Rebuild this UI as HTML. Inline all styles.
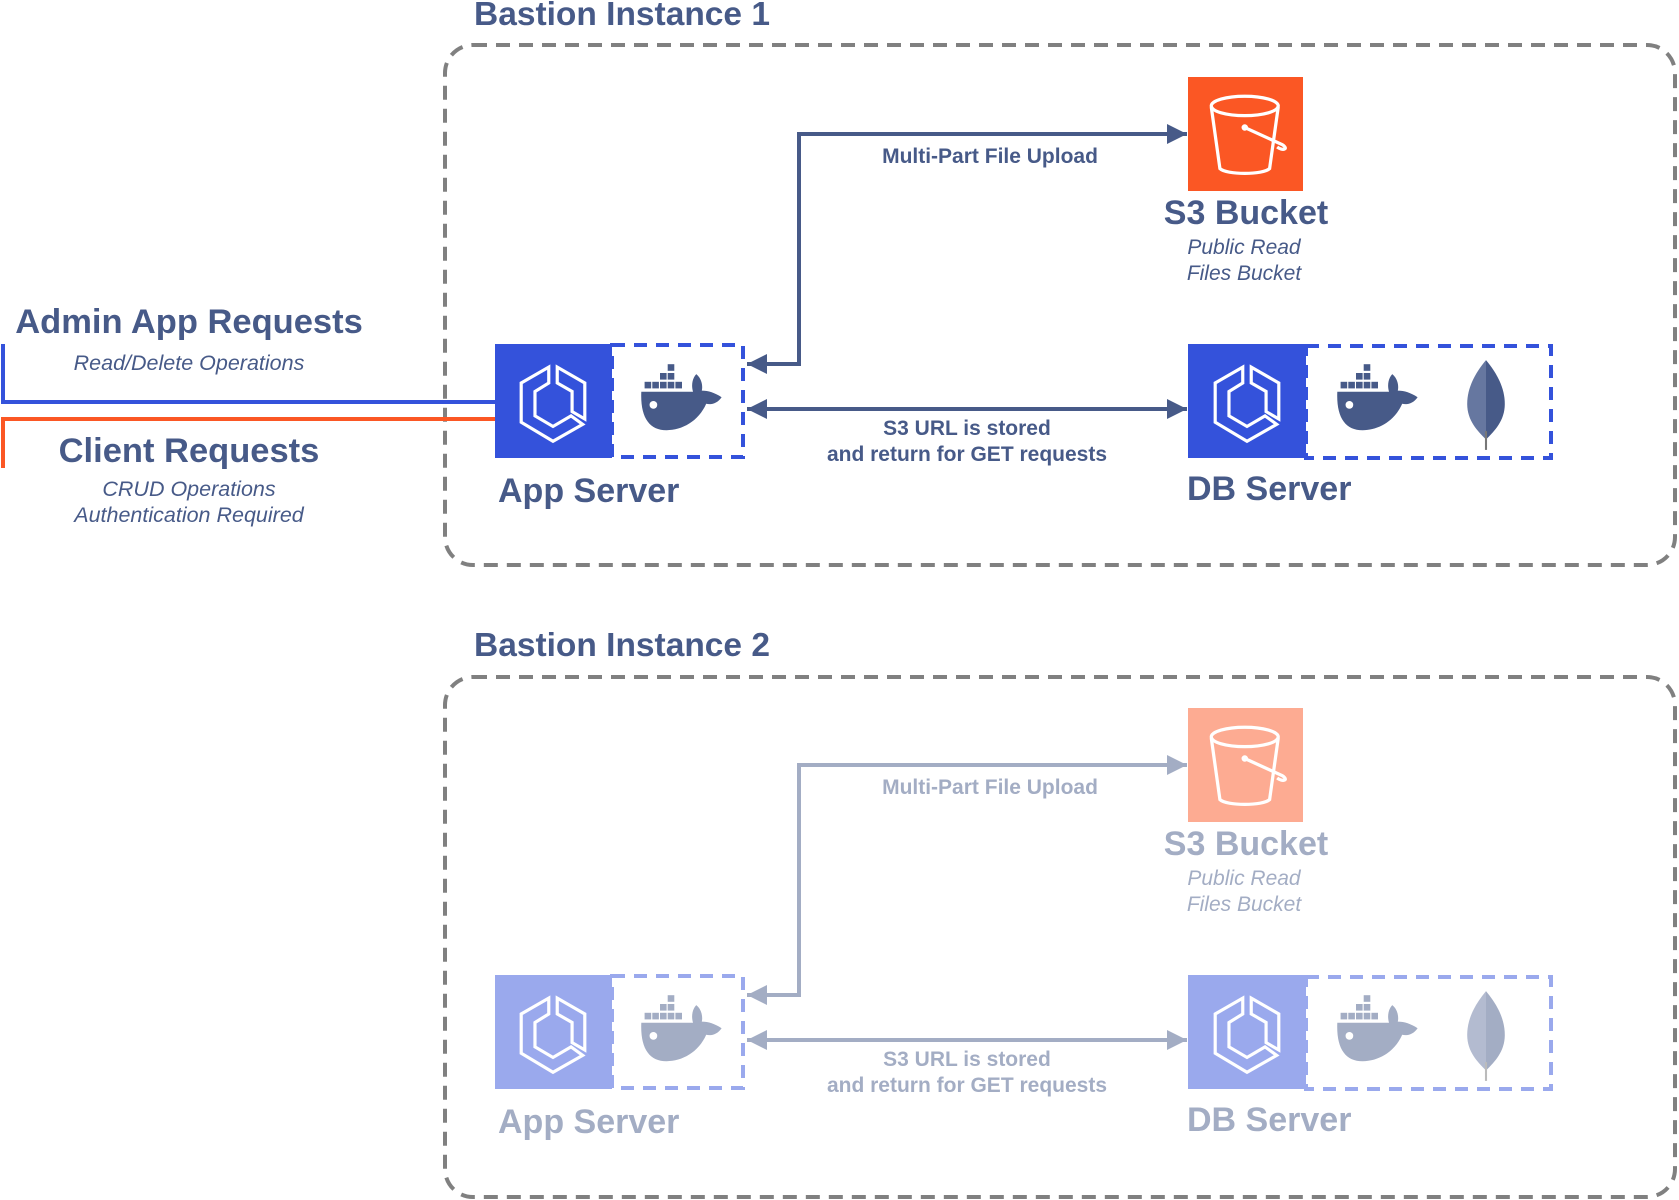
<!DOCTYPE html>
<html><head><meta charset="utf-8"><style>
html,body{margin:0;padding:0;background:#fff;}
svg{display:block;font-family:"Liberation Sans",sans-serif;}
</style></head><body>
<svg width="1679" height="1200" viewBox="0 0 1679 1200" xmlns="http://www.w3.org/2000/svg">
<defs>
<symbol id="ecs" viewBox="0 0 100 100">
<g fill="none" stroke="#fff" stroke-width="3" stroke-linejoin="miter">
<polygon points="46,18 20,33 20,70 50,88 78,72 67,64 50,74 33,64 33,41 46,33"/>
<polygon points="54,18 80,33 80,67 68,60 68,41 54,33"/>
</g>
</symbol>
<symbol id="whale" viewBox="0 0 80 70">
<g fill="#475a88">
<rect x="27" y="2" width="6" height="6"/>
<rect x="20" y="10" width="6" height="6"/><rect x="27" y="10" width="6" height="6"/>
<rect x="6" y="18" width="6" height="6"/><rect x="13" y="18" width="6" height="6"/><rect x="20" y="18" width="6" height="6"/><rect x="27" y="18" width="6" height="6"/><rect x="34" y="18" width="6" height="6"/>
<path d="M3,27 H50 C48,20 50,14 53,11 C58,15 59,22 58,26 C64,26 70,28 76,32 C72,38 66,39 62,38 C55,54 40,62 26,62 C10,62 2,50 3,27 Z"/>
</g>
<circle cx="14" cy="39" r="3.5" fill="#fff"/>
</symbol>
<symbol id="bucket" viewBox="0 0 100 100">
<g fill="none" stroke="#fff" stroke-width="3">
<ellipse cx="47" cy="24" rx="31" ry="9"/>
<path d="M16,25 L24,82 C30,88 64,88 70,82 L78,25"/>
<path d="M47,44 L82,60 C88,64 82,66 77,62"/>
</g>
<circle cx="47" cy="44" r="3" fill="#fff"/>
</symbol>
<symbol id="leaf" viewBox="0 0 40 90">
<path d="M20,2 C10,14 2,28 2,44 C2,60 12,70 20,78 Z" fill="#6677a0"/>
<path d="M20,2 C30,14 38,28 38,44 C38,60 28,70 20,78 Z" fill="#475a88"/>
<path d="M20,70 L20,88" stroke="#777" stroke-width="2"/>
</symbol>
<marker id="ah" viewBox="0 0 10 10" refX="10" refY="5" markerWidth="5" markerHeight="5" orient="auto-start-reverse" markerUnits="strokeWidth"><path d="M0,0 L10,5 L0,10 Z" fill="#475a88"/></marker>
<g id="inner">
<!-- S3 -->
<rect x="1188" y="77" width="115" height="114" fill="#fb5724"/>
<use href="#bucket" x="1194" y="80" width="108" height="108"/>
<text x="1246" y="224" text-anchor="middle" font-size="34" font-weight="bold" fill="#475a88">S3 Bucket</text>
<text x="1244" y="254" text-anchor="middle" font-size="21" font-style="italic" fill="#475a88">Public Read</text>
<text x="1244" y="280" text-anchor="middle" font-size="21" font-style="italic" fill="#475a88">Files Bucket</text>
<!-- App server -->
<rect x="612" y="345" width="131" height="112" fill="none" stroke="#3452db" stroke-width="4" stroke-dasharray="13,9"/>
<rect x="495" y="344" width="117" height="114" fill="#3452db"/>
<use href="#ecs" x="500" y="348" width="106" height="106"/>
<use href="#whale" x="638" y="362" width="88" height="77"/>
<text x="498" y="502" font-size="34" font-weight="bold" fill="#475a88">App Server</text>
<!-- DB server -->
<rect x="1306" y="346" width="245" height="112" fill="none" stroke="#3452db" stroke-width="4" stroke-dasharray="13,9"/>
<rect x="1188" y="344" width="118" height="114" fill="#3452db"/>
<use href="#ecs" x="1194" y="348" width="106" height="106"/>
<use href="#whale" x="1334" y="362" width="88" height="77"/>
<use href="#leaf" x="1465" y="358" width="42" height="94"/>
<text x="1187" y="500" font-size="34" font-weight="bold" fill="#475a88">DB Server</text>
<!-- arrows -->
<polyline points="747,364 799,364 799,134 1187,134" fill="none" stroke="#475a88" stroke-width="4" marker-start="url(#ah)" marker-end="url(#ah)"/>
<line x1="747" y1="409" x2="1187" y2="409" stroke="#475a88" stroke-width="4" marker-start="url(#ah)" marker-end="url(#ah)"/>
<text x="990" y="163" text-anchor="middle" font-size="21" font-weight="bold" fill="#475a88">Multi-Part File Upload</text>
<text x="967" y="435" text-anchor="middle" font-size="21" font-weight="bold" fill="#475a88">S3 URL is stored</text>
<text x="967" y="461" text-anchor="middle" font-size="21" font-weight="bold" fill="#475a88">and return for GET requests</text>
</g>
</defs>

<!-- Instance 1 -->
<text x="474" y="25" font-size="33.5" font-weight="bold" fill="#475a88">Bastion Instance 1</text>
<rect x="445" y="45" width="1230" height="520" rx="28" fill="none" stroke="#808080" stroke-width="4" stroke-dasharray="14,9"/>
<use href="#inner"/>

<!-- Left requests -->
<polyline points="3,344 3,402 495,402" fill="none" stroke="#3452db" stroke-width="4"/>
<polyline points="3,468 3,419 495,419" fill="none" stroke="#fb5724" stroke-width="4"/>
<text x="189" y="333" text-anchor="middle" font-size="34.5" font-weight="bold" fill="#475a88">Admin App Requests</text>
<text x="189" y="370" text-anchor="middle" font-size="21.5" font-style="italic" fill="#475a88">Read/Delete Operations</text>
<text x="189" y="462" text-anchor="middle" font-size="34.5" font-weight="bold" fill="#475a88">Client Requests</text>
<text x="189" y="496" text-anchor="middle" font-size="21.5" font-style="italic" fill="#475a88">CRUD Operations</text>
<text x="189" y="522" text-anchor="middle" font-size="21.5" font-style="italic" fill="#475a88">Authentication Required</text>

<!-- Instance 2 -->
<text x="474" y="656" font-size="33.5" font-weight="bold" fill="#475a88">Bastion Instance 2</text>
<rect x="445" y="677" width="1230" height="520" rx="28" fill="none" stroke="#808080" stroke-width="4" stroke-dasharray="14,9"/>
<g transform="translate(0,631)" opacity="0.5"><use href="#inner"/></g>
</svg>
</body></html>
